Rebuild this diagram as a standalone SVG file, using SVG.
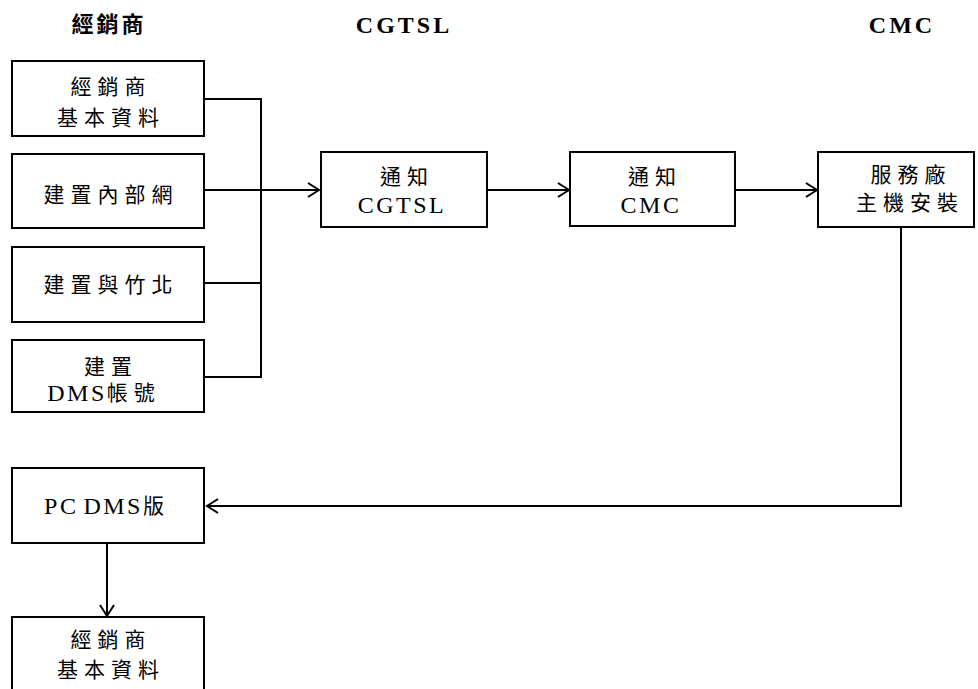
<svg xmlns="http://www.w3.org/2000/svg" width="978" height="689" viewBox="0 0 978 689">
<style>
.box{fill:#fff;stroke:#000;stroke-width:2}
.t{font-family:"Liberation Serif","Noto Sans CJK TC",serif;font-size:21px;letter-spacing:6px;text-anchor:middle;dominant-baseline:central;fill:#000}
.lat{font-size:24px;letter-spacing:2.5px}
.h{font-family:"Liberation Serif","Noto Sans CJK TC",serif;font-size:24px;font-weight:bold;text-anchor:middle;dominant-baseline:central;fill:#000;letter-spacing:3px}
.hc{font-size:22px;letter-spacing:3px}
.c{fill:none;stroke:#000;stroke-width:2}
</style>
<defs>
<marker id="ar" markerUnits="userSpaceOnUse" markerWidth="14" markerHeight="18" refX="12" refY="8" orient="auto" viewBox="0 0 14 16">
<path d="M1,1 L12,8 L1,15" fill="none" stroke="#000" stroke-width="2"/>
</marker>
</defs>
<g id="headers">
<text class="h hc" x="109" y="24">經銷商</text>
<text class="h" x="404" y="25">CGTSL</text>
<text class="h" x="902" y="25">CMC</text>
</g>
<g id="connectors">
<path class="c" d="M205,99 H261 V377 H205"/>
<path class="c" d="M205,283 H261"/>
<path class="c" d="M205,190 H319" marker-end="url(#ar)"/>
<path class="c" d="M487,190 H569" marker-end="url(#ar)"/>
<path class="c" d="M735,190 H817" marker-end="url(#ar)"/>
<path class="c" d="M901,227 V506 H207" marker-end="url(#ar)"/>
<path class="c" d="M107,543 V616" marker-end="url(#ar)"/>
</g>
<g id="n1"><rect class="box" x="12" y="61" width="192" height="75"/>
<text class="t" x="111" y="87">經銷商</text><text class="t" x="111" y="118">基本資料</text></g>
<g id="n2"><rect class="box" x="12" y="154" width="192" height="74"/>
<text class="t" x="111" y="195">建置內部網</text></g>
<g id="n3"><rect class="box" x="12" y="247" width="192" height="75"/>
<text class="t" x="111" y="285">建置與竹北</text></g>
<g id="n4"><rect class="box" x="12" y="340" width="192" height="72"/>
<text class="t" x="111" y="367">建置</text><text class="t" x="104" y="393"><tspan class="lat">DMS</tspan>帳號</text></g>
<g id="n5"><rect class="box" x="321" y="152" width="166" height="75"/>
<text class="t" x="407" y="177">通知</text><text class="t lat" x="402" y="205">CGTSL</text></g>
<g id="n6"><rect class="box" x="570" y="152" width="165" height="74"/>
<text class="t" x="655" y="177">通知</text><text class="t lat" x="651" y="205">CMC</text></g>
<g id="n7"><rect class="box" x="818" y="152" width="156" height="75"/>
<text class="t" x="911" y="175">服務廠</text><text class="t" x="910" y="203">主機安裝</text></g>
<g id="n8"><rect class="box" x="12" y="468" width="192" height="75"/>
<text class="t" x="107" y="506"><tspan class="lat">PC</tspan><tspan class="lat" dx="5">DMS</tspan>版</text></g>
<g id="n9"><rect class="box" x="12" y="617" width="192" height="90"/>
<text class="t" x="111" y="640">經銷商</text><text class="t" x="111" y="670">基本資料</text></g>
</svg>
